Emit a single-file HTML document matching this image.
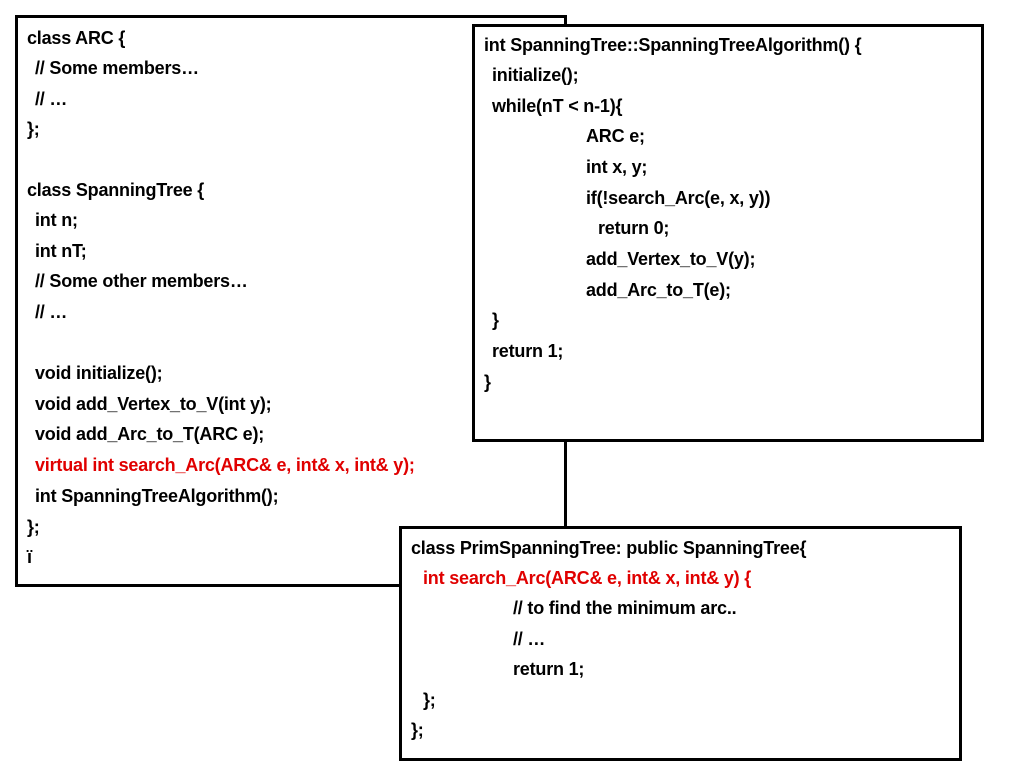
<!DOCTYPE html>
<html><head><meta charset="utf-8"><style>
body{margin:0;width:1024px;height:768px;background:#fff;position:relative;overflow:hidden;
font-family:"Liberation Sans Narrow","Liberation Sans",sans-serif;font-weight:bold;font-size:18px;color:#000;letter-spacing:-0.2px}
.b{position:absolute;border:3px solid #000;background:#fff;box-sizing:border-box}
.l{position:absolute;white-space:pre;line-height:20px}
.r{color:#e00000}
</style></head><body>
<div class="b" style="left:15px;top:15px;width:552px;height:572px"></div>
<div class="l" style="left:27px;top:28px">class ARC {</div>
<div class="l" style="left:35px;top:58px">// Some members…</div>
<div class="l" style="left:35px;top:89px">// …</div>
<div class="l" style="left:27px;top:119px">};</div>
<div class="l" style="left:27px;top:180px">class SpanningTree {</div>
<div class="l" style="left:35px;top:210px">int n;</div>
<div class="l" style="left:35px;top:241px">int nT;</div>
<div class="l" style="left:35px;top:271px">// Some other members…</div>
<div class="l" style="left:35px;top:302px">// …</div>
<div class="l" style="left:35px;top:363px">void initialize();</div>
<div class="l" style="left:35px;top:394px">void add_Vertex_to_V(int y);</div>
<div class="l" style="left:35px;top:424px">void add_Arc_to_T(ARC e);</div>
<div class="l r" style="left:35px;top:455px">virtual int search_Arc(ARC&amp; e, int&amp; x, int&amp; y);</div>
<div class="l" style="left:35px;top:486px">int SpanningTreeAlgorithm();</div>
<div class="l" style="left:27px;top:517px">};</div>
<div class="l" style="left:27px;top:547px">ï</div>

<div class="b" style="left:472px;top:24px;width:512px;height:418px"></div>
<div class="l" style="left:484px;top:35px">int SpanningTree::SpanningTreeAlgorithm() {</div>
<div class="l" style="left:492px;top:65px">initialize();</div>
<div class="l" style="left:492px;top:96px">while(nT &lt; n-1){</div>
<div class="l" style="left:586px;top:126px">ARC e;</div>
<div class="l" style="left:586px;top:157px">int x, y;</div>
<div class="l" style="left:586px;top:188px">if(!search_Arc(e, x, y))</div>
<div class="l" style="left:598px;top:218px">return 0;</div>
<div class="l" style="left:586px;top:249px">add_Vertex_to_V(y);</div>
<div class="l" style="left:586px;top:280px">add_Arc_to_T(e);</div>
<div class="l" style="left:492px;top:310px">}</div>
<div class="l" style="left:492px;top:341px">return 1;</div>
<div class="l" style="left:484px;top:372px">}</div>

<div class="b" style="left:399px;top:526px;width:563px;height:235px"></div>
<div class="l" style="left:411px;top:538px">class PrimSpanningTree: public SpanningTree{</div>
<div class="l r" style="left:423px;top:568px">int search_Arc(ARC&amp; e, int&amp; x, int&amp; y) {</div>
<div class="l" style="left:513px;top:598px">// to find the minimum arc..</div>
<div class="l" style="left:513px;top:629px">// …</div>
<div class="l" style="left:513px;top:659px">return 1;</div>
<div class="l" style="left:423px;top:690px">};</div>
<div class="l" style="left:411px;top:720px">};</div>
</body></html>
